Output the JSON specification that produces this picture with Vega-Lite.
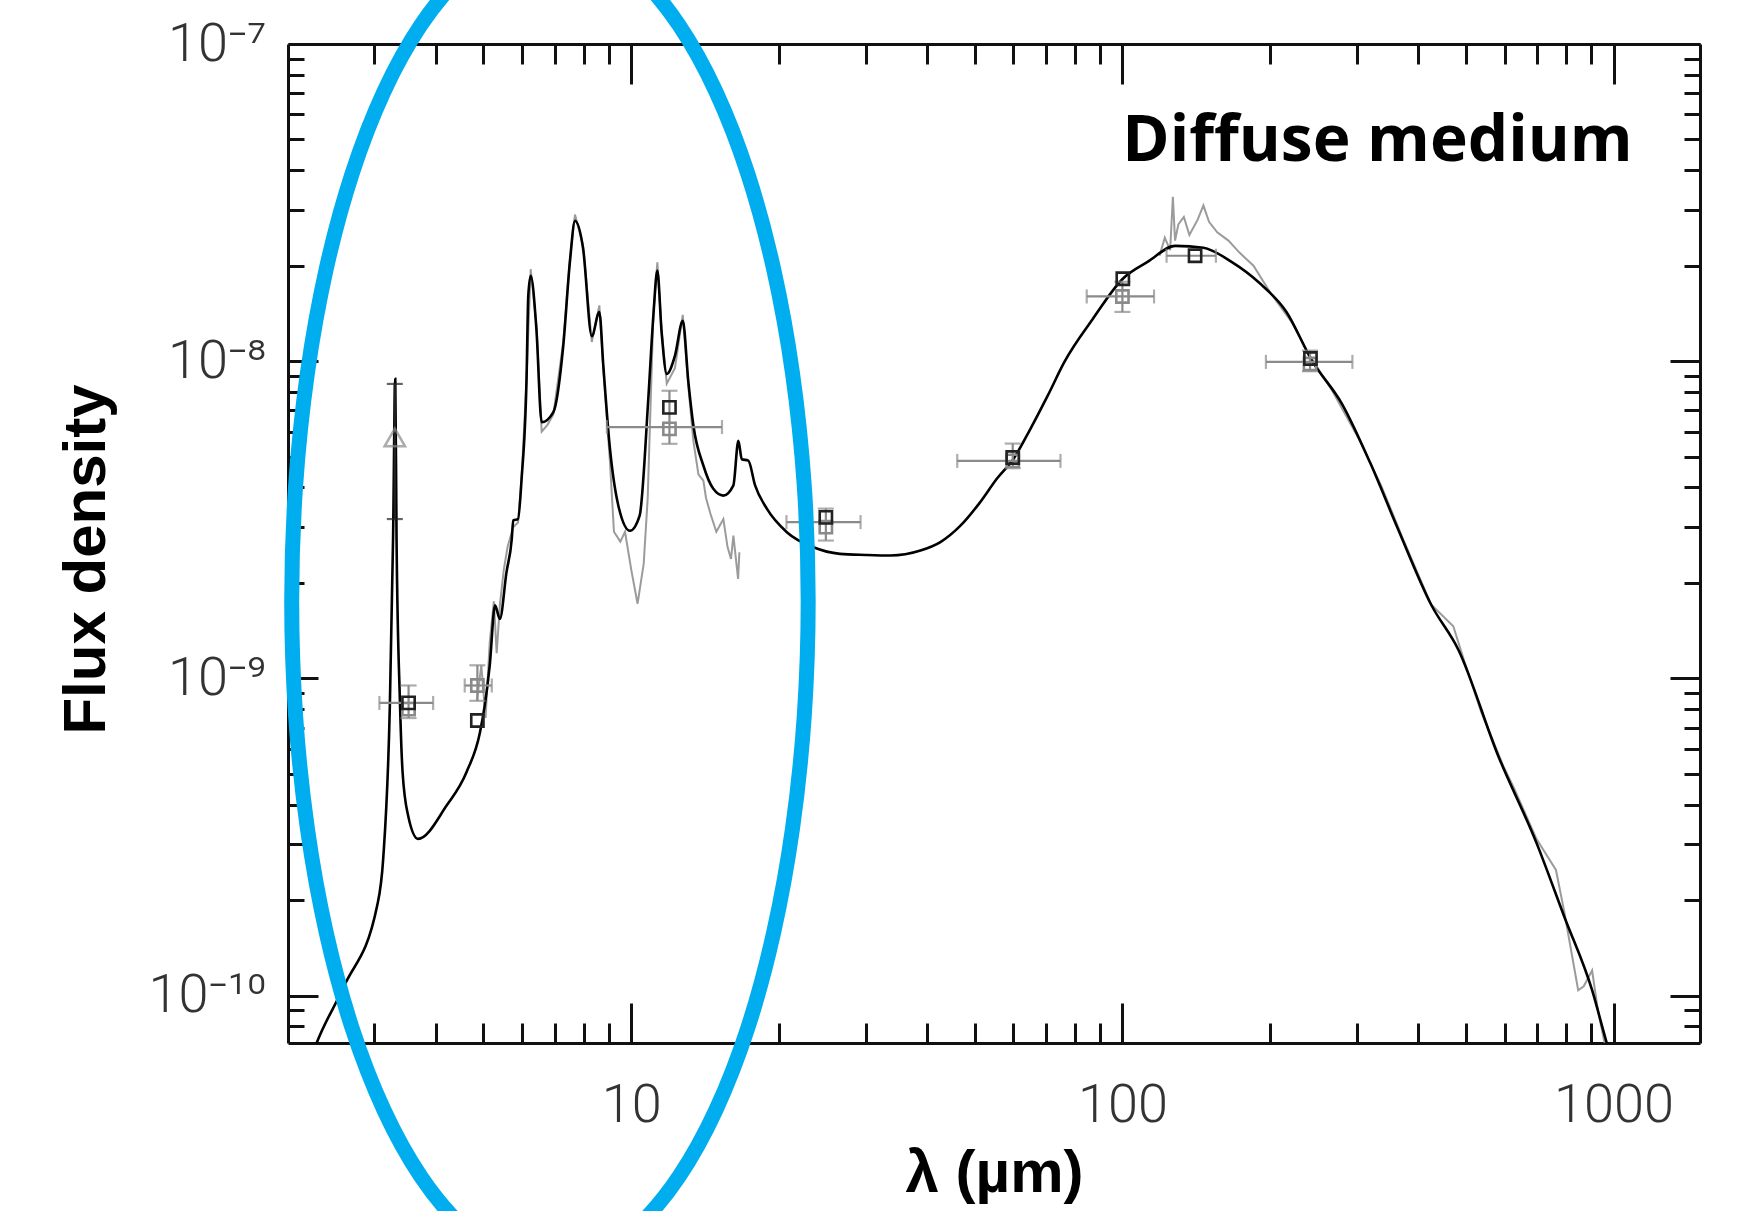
{
  "$schema": "https://vega.github.io/schema/vega-lite/v6.json",
  "width": 1412,
  "height": 999,
  "autosize": {"type": "none"},
  "padding": {"left": 288, "top": 44, "right": 41, "bottom": 168},
  "background": "white",
  "config": {"view": {"stroke": null}, "axis": {"grid": false}},
  "datasets": {
    "model": [
      {"lam": 2.2, "f": 6.0e-11}, {"lam": 2.28, "f": 7.0e-11}, {"lam": 2.6, "f": 1.07e-10}, {"lam": 3.04, "f": 1.93e-10},
      {"lam": 3.125, "f": 2.7e-10}, {"lam": 3.224, "f": 8.2e-10}, {"lam": 3.273, "f": 2.75e-9}, {"lam": 3.307, "f": 8.8e-9},
      {"lam": 3.327, "f": 2.75e-9}, {"lam": 3.379, "f": 8.62e-10}, {"lam": 3.422, "f": 5.08e-10}, {"lam": 3.513, "f": 3.69e-10},
      {"lam": 3.68, "f": 3.12e-10}, {"lam": 4.21, "f": 3.98e-10}, {"lam": 4.62, "f": 5.07e-10}, {"lam": 4.92, "f": 6.77e-10},
      {"lam": 5.03, "f": 8.21e-10}, {"lam": 5.15, "f": 1.1e-9}, {"lam": 5.28, "f": 1.7e-9}, {"lam": 5.4, "f": 1.54e-9},
      {"lam": 5.57, "f": 2.16e-9}, {"lam": 5.71, "f": 2.75e-9}, {"lam": 5.75, "f": 3.15e-9}, {"lam": 5.88, "f": 3.18e-9},
      {"lam": 5.98, "f": 4.26e-9}, {"lam": 6.12, "f": 8.8e-9}, {"lam": 6.17, "f": 1.61e-8}, {"lam": 6.24, "f": 1.86e-8},
      {"lam": 6.41, "f": 1.26e-8}, {"lam": 6.57, "f": 6.42e-9}, {"lam": 6.94, "f": 6.91e-9}, {"lam": 7.27, "f": 1.12e-8},
      {"lam": 7.5, "f": 2.06e-8}, {"lam": 7.68, "f": 2.77e-8}, {"lam": 7.98, "f": 2.26e-8}, {"lam": 8.31, "f": 1.2e-8},
      {"lam": 8.61, "f": 1.43e-8}, {"lam": 8.77, "f": 9.7e-9}, {"lam": 9.05, "f": 5.29e-9}, {"lam": 9.41, "f": 3.51e-9},
      {"lam": 9.94, "f": 2.92e-9}, {"lam": 10.4, "f": 3.26e-9}, {"lam": 10.83, "f": 7.6e-9}, {"lam": 11.09, "f": 1.39e-8},
      {"lam": 11.3, "f": 1.93e-8}, {"lam": 11.53, "f": 1.23e-8}, {"lam": 11.81, "f": 9.12e-9}, {"lam": 12.27, "f": 1.04e-8},
      {"lam": 12.73, "f": 1.34e-8}, {"lam": 13.07, "f": 8.59e-9}, {"lam": 13.38, "f": 6.27e-9}, {"lam": 14.02, "f": 4.69e-9},
      {"lam": 14.69, "f": 3.96e-9}, {"lam": 15.4, "f": 3.77e-9}, {"lam": 16.14, "f": 4.06e-9}, {"lam": 16.52, "f": 5.61e-9},
      {"lam": 16.79, "f": 4.91e-9}, {"lam": 17.31, "f": 4.86e-9}, {"lam": 17.87, "f": 4.06e-9}, {"lam": 18.88, "f": 3.43e-9},
      {"lam": 20.74, "f": 2.89e-9}, {"lam": 23.5, "f": 2.59e-9}, {"lam": 26.6, "f": 2.47e-9}, {"lam": 30.0, "f": 2.45e-9},
      {"lam": 33.7, "f": 2.44e-9}, {"lam": 38.8, "f": 2.53e-9}, {"lam": 42.6, "f": 2.69e-9}, {"lam": 46.8, "f": 3.03e-9},
      {"lam": 51.3, "f": 3.59e-9}, {"lam": 55.5, "f": 4.26e-9}, {"lam": 60.0, "f": 4.92e-9}, {"lam": 64.9, "f": 6.1e-9},
      {"lam": 70.5, "f": 7.8e-9}, {"lam": 76.2, "f": 9.95e-9}, {"lam": 86.9, "f": 1.354e-8},
      {"lam": 100.2, "f": 1.82e-8}, {"lam": 112.7, "f": 2.06e-8}, {"lam": 128.2, "f": 2.31e-8}, {"lam": 146.2, "f": 2.28e-8},
      {"lam": 166.5, "f": 2.06e-8}, {"lam": 189.7, "f": 1.77e-8}, {"lam": 215.8, "f": 1.43e-8}, {"lam": 242.7, "f": 1.01e-8},
      {"lam": 280.3, "f": 7.31e-9}, {"lam": 319.2, "f": 4.8e-9}, {"lam": 363.3, "f": 2.98e-9}, {"lam": 425.1, "f": 1.71e-9},
      {"lam": 483.7, "f": 1.227e-9}, {"lam": 580.8, "f": 5.76e-10}, {"lam": 697.5, "f": 3.02e-10}, {"lam": 794.3, "f": 1.77e-10},
      {"lam": 904.5, "f": 1.04e-10}, {"lam": 965.6, "f": 7.22e-11}, {"lam": 1000, "f": 6.0e-11}
    ],
    "spectrum": [
      {"seg": "mir", "lam": 4.85, "f": 8.5e-10}, {"seg": "mir", "lam": 4.95, "f": 1.1e-9}, {"seg": "mir", "lam": 5.05, "f": 7.5e-10},
      {"seg": "mir", "lam": 5.15, "f": 1.3e-9}, {"seg": "mir", "lam": 5.25, "f": 1.75e-9}, {"seg": "mir", "lam": 5.32, "f": 1.2e-9},
      {"seg": "mir", "lam": 5.4, "f": 1.7e-9}, {"seg": "mir", "lam": 5.5, "f": 2.2e-9}, {"seg": "mir", "lam": 5.6, "f": 2.6e-9},
      {"seg": "mir", "lam": 5.75, "f": 3.0e-9}, {"seg": "mir", "lam": 5.88, "f": 3.1e-9}, {"seg": "mir", "lam": 5.98, "f": 4.3e-9},
      {"seg": "mir", "lam": 6.12, "f": 8.8e-9}, {"seg": "mir", "lam": 6.24, "f": 1.95e-8}, {"seg": "mir", "lam": 6.41, "f": 1.3e-8},
      {"seg": "mir", "lam": 6.57, "f": 6.0e-9}, {"seg": "mir", "lam": 6.75, "f": 6.3e-9}, {"seg": "mir", "lam": 6.94, "f": 6.8e-9},
      {"seg": "mir", "lam": 7.27, "f": 1.15e-8}, {"seg": "mir", "lam": 7.5, "f": 2.1e-8}, {"seg": "mir", "lam": 7.68, "f": 2.9e-8},
      {"seg": "mir", "lam": 7.98, "f": 2.3e-8}, {"seg": "mir", "lam": 8.31, "f": 1.15e-8}, {"seg": "mir", "lam": 8.61, "f": 1.5e-8},
      {"seg": "mir", "lam": 8.77, "f": 9.5e-9}, {"seg": "mir", "lam": 9.05, "f": 4.8e-9}, {"seg": "mir", "lam": 9.22, "f": 2.9e-9},
      {"seg": "mir", "lam": 9.5, "f": 2.7e-9}, {"seg": "mir", "lam": 9.71, "f": 2.9e-9}, {"seg": "mir", "lam": 10.0, "f": 2.2e-9},
      {"seg": "mir", "lam": 10.3, "f": 1.72e-9}, {"seg": "mir", "lam": 10.6, "f": 2.3e-9}, {"seg": "mir", "lam": 10.8, "f": 3.7e-9},
      {"seg": "mir", "lam": 11.09, "f": 1.4e-8}, {"seg": "mir", "lam": 11.3, "f": 2.05e-8}, {"seg": "mir", "lam": 11.53, "f": 1.25e-8},
      {"seg": "mir", "lam": 11.81, "f": 8.5e-9}, {"seg": "mir", "lam": 12.27, "f": 9.5e-9}, {"seg": "mir", "lam": 12.73, "f": 1.4e-8},
      {"seg": "mir", "lam": 13.07, "f": 8.3e-9}, {"seg": "mir", "lam": 13.38, "f": 5.6e-9}, {"seg": "mir", "lam": 13.7, "f": 4.4e-9},
      {"seg": "mir", "lam": 14.02, "f": 4.2e-9}, {"seg": "mir", "lam": 14.2, "f": 3.7e-9}, {"seg": "mir", "lam": 14.5, "f": 3.3e-9},
      {"seg": "mir", "lam": 14.9, "f": 2.9e-9}, {"seg": "mir", "lam": 15.4, "f": 3.18e-9}, {"seg": "mir", "lam": 15.7, "f": 2.6e-9},
      {"seg": "mir", "lam": 15.96, "f": 2.38e-9}, {"seg": "mir", "lam": 16.14, "f": 2.82e-9}, {"seg": "mir", "lam": 16.5, "f": 2.06e-9},
      {"seg": "mir", "lam": 16.6, "f": 2.5e-9},
      {"seg": "fir", "lam": 119, "f": 2.15e-8}, {"seg": "fir", "lam": 122, "f": 2.45e-8}, {"seg": "fir", "lam": 125.1, "f": 2.24e-8},
      {"seg": "fir", "lam": 126.7, "f": 3.3e-8}, {"seg": "fir", "lam": 128, "f": 2.4e-8}, {"seg": "fir", "lam": 130.0, "f": 2.7e-8},
      {"seg": "fir", "lam": 133.4, "f": 2.85e-8}, {"seg": "fir", "lam": 136.9, "f": 2.5e-8}, {"seg": "fir", "lam": 142.4, "f": 2.8e-8},
      {"seg": "fir", "lam": 146.2, "f": 3.1e-8}, {"seg": "fir", "lam": 150.1, "f": 2.75e-8}, {"seg": "fir", "lam": 156.0, "f": 2.55e-8},
      {"seg": "fir", "lam": 164.4, "f": 2.4e-8}, {"seg": "fir", "lam": 173.1, "f": 2.2e-8}, {"seg": "fir", "lam": 184.9, "f": 2.0e-8},
      {"seg": "fir", "lam": 199.8, "f": 1.65e-8}, {"seg": "fir", "lam": 221.8, "f": 1.32e-8}, {"seg": "fir", "lam": 239.8, "f": 1.05e-8},
      {"seg": "fir", "lam": 266.1, "f": 8.18e-9}, {"seg": "fir", "lam": 302.9, "f": 5.69e-9}, {"seg": "fir", "lam": 336.3, "f": 4.06e-9},
      {"seg": "fir", "lam": 373.2, "f": 2.74e-9}, {"seg": "fir", "lam": 425.1, "f": 1.71e-9}, {"seg": "fir", "lam": 471.8, "f": 1.46e-9},
      {"seg": "fir", "lam": 497.1, "f": 1.13e-9}, {"seg": "fir", "lam": 537.4, "f": 7.86e-10}, {"seg": "fir", "lam": 596.4, "f": 5.3e-10},
      {"seg": "fir", "lam": 628.3, "f": 4.48e-10}, {"seg": "fir", "lam": 697.5, "f": 3.11e-10}, {"seg": "fir", "lam": 763.5, "f": 2.49e-10},
      {"seg": "fir", "lam": 794.3, "f": 1.83e-10}, {"seg": "fir", "lam": 825.9, "f": 1.3e-10}, {"seg": "fir", "lam": 847.4, "f": 1.04e-10},
      {"seg": "fir", "lam": 869.6, "f": 1.07e-10}, {"seg": "fir", "lam": 904.5, "f": 1.2e-10}, {"seg": "fir", "lam": 928.8, "f": 9.05e-11},
      {"seg": "fir", "lam": 953.0, "f": 7.44e-11}, {"seg": "fir", "lam": 970, "f": 6.5e-11}
    ],
    "hbars": [
      {"lo": 3.07, "hi": 3.95, "f": 8.37e-10},
      {"lo": 4.58, "hi": 5.2, "f": 9.5e-10},
      {"lo": 8.92, "hi": 15.3, "f": 6.2e-9},
      {"lo": 20.7, "hi": 29.3, "f": 3.11e-9},
      {"lo": 46.1, "hi": 74.8, "f": 4.85e-9},
      {"lo": 84.6, "hi": 116, "f": 1.6e-8},
      {"lo": 123, "hi": 155, "f": 2.15e-8},
      {"lo": 196, "hi": 294, "f": 9.95e-9}
    ],
    "vbars": [
      {"lam": 3.3, "lo": 3.18e-9, "hi": 8.48e-9, "c": "dark"},
      {"lam": 3.52, "lo": 7.5e-10, "hi": 9.5e-10, "c": "grey"},
      {"lam": 4.86, "lo": 8.5e-10, "hi": 1.1e-9, "c": "grey"},
      {"lam": 11.96, "lo": 5.49e-9, "hi": 8.07e-9, "c": "grey"},
      {"lam": 24.9, "lo": 2.72e-9, "hi": 3.43e-9, "c": "grey"},
      {"lam": 59.8, "lo": 4.6e-9, "hi": 5.5e-9, "c": "grey"},
      {"lam": 100, "lo": 1.43e-8, "hi": 1.78e-8, "c": "grey"},
      {"lam": 241, "lo": 9.3e-9, "hi": 1.08e-8, "c": "grey"}
    ],
    "phot": [
      {"lam": 3.52, "f": 8.0e-10, "set": "grey"},
      {"lam": 4.86, "f": 9.5e-10, "set": "grey"},
      {"lam": 11.96, "f": 6.12e-9, "set": "grey"},
      {"lam": 24.9, "f": 3.0e-9, "set": "grey"},
      {"lam": 59.8, "f": 4.85e-9, "set": "grey"},
      {"lam": 100, "f": 1.6e-8, "set": "grey"},
      {"lam": 241, "f": 9.8e-9, "set": "grey"},
      {"lam": 3.52, "f": 8.37e-10, "set": "black"},
      {"lam": 4.86, "f": 7.37e-10, "set": "black"},
      {"lam": 11.96, "f": 7.15e-9, "set": "black"},
      {"lam": 24.9, "f": 3.22e-9, "set": "black"},
      {"lam": 59.8, "f": 4.97e-9, "set": "black"},
      {"lam": 100.2, "f": 1.82e-8, "set": "black"},
      {"lam": 140.6, "f": 2.15e-8, "set": "black"},
      {"lam": 241.5, "f": 1.02e-8, "set": "black"}
    ],
    "tri": [{"lam": 3.3, "f": 5.75e-9}],
    "label": [{"lam": 1094, "f": 4.28e-8, "text": "Diffuse medium"}],
    "ellipse": [
      {"i": 0, "lam": 22.92, "f": 1.756e-9}, {"i": 1, "lam": 22.5, "f": 7.6e-10}, {"i": 2, "lam": 21.3, "f": 3.37e-10},
      {"i": 3, "lam": 19.48, "f": 1.573e-10}, {"i": 4, "lam": 17.26, "f": 7.89e-11}, {"i": 5, "lam": 14.87, "f": 4.36e-11},
      {"i": 6, "lam": 12.51, "f": 2.69e-11}, {"i": 7, "lam": 10.33, "f": 1.884e-11}, {"i": 8, "lam": 8.43, "f": 1.516e-11},
      {"i": 9, "lam": 6.83, "f": 1.408e-11}, {"i": 10, "lam": 5.53, "f": 1.516e-11}, {"i": 11, "lam": 4.515, "f": 1.884e-11},
      {"i": 12, "lam": 3.728, "f": 2.69e-11}, {"i": 13, "lam": 3.136, "f": 4.36e-11}, {"i": 14, "lam": 2.702, "f": 7.89e-11},
      {"i": 15, "lam": 2.394, "f": 1.573e-10}, {"i": 16, "lam": 2.19, "f": 3.37e-10}, {"i": 17, "lam": 2.073, "f": 7.6e-10},
      {"i": 18, "lam": 2.035, "f": 1.756e-9}, {"i": 19, "lam": 2.073, "f": 4.06e-9}, {"i": 20, "lam": 2.19, "f": 9.15e-9},
      {"i": 21, "lam": 2.394, "f": 1.961e-8}, {"i": 22, "lam": 2.702, "f": 3.91e-8}, {"i": 23, "lam": 3.136, "f": 7.08e-8},
      {"i": 24, "lam": 3.728, "f": 1.147e-7}, {"i": 25, "lam": 4.515, "f": 1.637e-7}, {"i": 26, "lam": 5.53, "f": 2.034e-7},
      {"i": 27, "lam": 6.83, "f": 2.19e-7}, {"i": 28, "lam": 8.43, "f": 2.034e-7}, {"i": 29, "lam": 10.33, "f": 1.637e-7},
      {"i": 30, "lam": 12.51, "f": 1.147e-7}, {"i": 31, "lam": 14.87, "f": 7.08e-8}, {"i": 32, "lam": 17.26, "f": 3.91e-8},
      {"i": 33, "lam": 19.48, "f": 1.961e-8}, {"i": 34, "lam": 21.3, "f": 9.15e-9}, {"i": 35, "lam": 22.5, "f": 4.06e-9}
    ]
  },
  "layer": [
    {
      "data": {"name": "spectrum"},
      "mark": {"type": "line", "color": "#8a8a8a", "strokeWidth": 2, "opacity": 0.85, "clip": true},
      "encoding": {
        "x": {"field": "lam", "type": "quantitative", "scale": {"type": "log", "domain": [2, 1500], "nice": false},
          "axis": {"orient": "bottom", "values": [10, 100, 1000], "format": "d", "labelFont": "Roboto", "labelFontWeight": 300,
            "labelFontSize": 54, "labelColor": "#333333", "labelPadding": 75, "labelFlush": false, "labelOverlap": false,
            "tickSize": -40, "tickWidth": 3, "tickColor": "#111111", "domainColor": "#111111", "domainWidth": 3,
            "title": "λ (µm)", "titleFont": "Liberation Sans", "titleFontSize": 60, "titleFontWeight": "bold", "titleColor": "#000000", "titlePadding": 12}},
        "y": {"field": "f", "type": "quantitative", "scale": {"type": "log", "domain": [7.09e-11, 1e-7], "nice": false},
          "axis": {"orient": "left", "values": [1e-10, 1e-9, 1e-8, 1e-7],
            "labelExpr": "datum.value > 5e-8 ? '10⁻⁷' : datum.value > 5e-9 ? '10⁻⁸' : datum.value > 5e-10 ? '10⁻⁹' : '10⁻¹⁰'",
            "labelFont": "Roboto", "labelFontWeight": 300, "labelFontSize": 54, "labelColor": "#333333", "labelPadding": 52,
            "labelFlush": false, "labelOverlap": false,
            "tickSize": -30, "tickWidth": 3, "tickColor": "#111111", "domainColor": "#111111", "domainWidth": 3,
            "title": "Flux density", "titleFont": "Liberation Sans", "titleFontSize": 60, "titleFontWeight": "bold", "titleColor": "#000000",
            "titlePadding": 30, "titleY": 515}},
        "detail": {"field": "seg", "type": "nominal"}
      }
    },
    {
      "data": {"name": "model"},
      "mark": {"type": "line", "color": "#000000", "strokeWidth": 2.6, "interpolate": "monotone", "clip": true},
      "encoding": {
        "x": {"field": "lam", "type": "quantitative", "scale": {"type": "log", "domain": [2, 1500], "nice": false},
          "axis": {"orient": "bottom", "values": [3, 4, 5, 6, 7, 8, 9, 20, 30, 40, 50, 60, 70, 80, 90, 200, 300, 400, 500, 600, 700, 800, 900],
            "labels": false, "domain": false, "title": null, "tickSize": -20, "tickWidth": 3, "tickColor": "#111111"}},
        "y": {"field": "f", "type": "quantitative", "scale": {"type": "log", "domain": [7.09e-11, 1e-7], "nice": false},
          "axis": {"orient": "left", "values": [8e-11, 9e-11, 2e-10, 3e-10, 4e-10, 5e-10, 6e-10, 7e-10, 8e-10, 9e-10, 2e-9, 3e-9, 4e-9, 5e-9, 6e-9, 7e-9, 8e-9, 9e-9, 2e-8, 3e-8, 4e-8, 5e-8, 6e-8, 7e-8, 8e-8, 9e-8],
            "labels": false, "domain": false, "title": null, "tickSize": -16, "tickWidth": 3, "tickColor": "#111111"}}
      }
    },
    {
      "data": {"name": "hbars"},
      "mark": {"type": "rule", "color": "#8a8a8a", "strokeWidth": 2.2},
      "encoding": {
        "x": {"field": "lo", "type": "quantitative", "scale": {"type": "log", "domain": [2, 1500], "nice": false},
          "axis": {"orient": "top", "values": [10, 100, 1000], "labels": false, "title": null,
            "tickSize": -40, "tickWidth": 3, "tickColor": "#111111", "domainColor": "#111111", "domainWidth": 3}},
        "x2": {"field": "hi"},
        "y": {"field": "f", "type": "quantitative", "scale": {"type": "log", "domain": [7.09e-11, 1e-7], "nice": false},
          "axis": {"orient": "right", "values": [1e-10, 1e-9, 1e-8, 1e-7], "labels": false, "title": null,
            "tickSize": -30, "tickWidth": 3, "tickColor": "#111111", "domainColor": "#111111", "domainWidth": 3}}
      }
    },
    {
      "data": {"name": "vbars"},
      "mark": {"type": "rule", "strokeWidth": 2.2},
      "encoding": {
        "x": {"field": "lam", "type": "quantitative", "scale": {"type": "log", "domain": [2, 1500], "nice": false},
          "axis": {"orient": "top", "values": [3, 4, 5, 6, 7, 8, 9, 20, 30, 40, 50, 60, 70, 80, 90, 200, 300, 400, 500, 600, 700, 800, 900],
            "labels": false, "domain": false, "title": null, "tickSize": -20, "tickWidth": 3, "tickColor": "#111111"}},
        "y": {"field": "lo", "type": "quantitative", "scale": {"type": "log", "domain": [7.09e-11, 1e-7], "nice": false},
          "axis": {"orient": "right", "values": [8e-11, 9e-11, 2e-10, 3e-10, 4e-10, 5e-10, 6e-10, 7e-10, 8e-10, 9e-10, 2e-9, 3e-9, 4e-9, 5e-9, 6e-9, 7e-9, 8e-9, 9e-9, 2e-8, 3e-8, 4e-8, 5e-8, 6e-8, 7e-8, 8e-8, 9e-8],
            "labels": false, "domain": false, "title": null, "tickSize": -16, "tickWidth": 3, "tickColor": "#111111"}},
        "y2": {"field": "hi"},
        "color": {"field": "c", "type": "nominal", "scale": {"domain": ["dark", "grey"], "range": ["#222222", "#8a8a8a"]}, "legend": null}
      }
    },
    {
      "data": {"name": "hbars"},
      "transform": [{"fold": ["lo", "hi"], "as": ["end", "x"]}],
      "mark": {"type": "tick", "orient": "vertical", "color": "#8a8a8a", "size": 14, "thickness": 2.2},
      "encoding": {
        "x": {"field": "x", "type": "quantitative", "scale": {"type": "log", "domain": [2, 1500], "nice": false}, "axis": null},
        "y": {"field": "f", "type": "quantitative", "scale": {"type": "log", "domain": [7.09e-11, 1e-7], "nice": false}, "axis": null}
      }
    },
    {
      "data": {"name": "vbars"},
      "transform": [{"fold": ["lo", "hi"], "as": ["end", "y"]}],
      "mark": {"type": "tick", "orient": "horizontal", "size": 16, "thickness": 2.2},
      "encoding": {
        "x": {"field": "lam", "type": "quantitative", "scale": {"type": "log", "domain": [2, 1500], "nice": false}, "axis": null},
        "y": {"field": "y", "type": "quantitative", "scale": {"type": "log", "domain": [7.09e-11, 1e-7], "nice": false}, "axis": null},
        "color": {"field": "c", "type": "nominal", "scale": {"domain": ["dark", "grey"], "range": ["#222222", "#8a8a8a"]}, "legend": null}
      }
    },
    {
      "data": {"name": "tri"},
      "mark": {"type": "point", "shape": "triangle-up", "filled": false, "size": 420, "strokeWidth": 2.5, "color": "#8a8a8a"},
      "encoding": {
        "x": {"field": "lam", "type": "quantitative", "scale": {"type": "log", "domain": [2, 1500], "nice": false}, "axis": null},
        "y": {"field": "f", "type": "quantitative", "scale": {"type": "log", "domain": [7.09e-11, 1e-7], "nice": false}, "axis": null}
      }
    },
    {
      "data": {"name": "phot"},
      "mark": {"type": "point", "shape": "square", "filled": false, "size": 150, "strokeWidth": 2.6, "opacity": 1},
      "encoding": {
        "x": {"field": "lam", "type": "quantitative", "scale": {"type": "log", "domain": [2, 1500], "nice": false}, "axis": null},
        "y": {"field": "f", "type": "quantitative", "scale": {"type": "log", "domain": [7.09e-11, 1e-7], "nice": false}, "axis": null},
        "color": {"field": "set", "type": "nominal", "scale": {"domain": ["black", "grey"], "range": ["#111111", "#9a9a9a"]}, "legend": null}
      }
    },
    {
      "data": {"name": "label"},
      "mark": {"type": "text", "font": "Open Sans", "fontSize": 64, "fontWeight": "bold", "align": "right", "baseline": "alphabetic", "color": "#000000"},
      "encoding": {
        "x": {"field": "lam", "type": "quantitative", "scale": {"type": "log", "domain": [2, 1500], "nice": false}, "axis": null},
        "y": {"field": "f", "type": "quantitative", "scale": {"type": "log", "domain": [7.09e-11, 1e-7], "nice": false}, "axis": null},
        "text": {"field": "text"}
      }
    },
    {
      "data": {"name": "ellipse"},
      "mark": {"type": "line", "color": "#00AEEF", "strokeWidth": 15, "interpolate": "cardinal-closed", "clip": false},
      "encoding": {
        "x": {"field": "lam", "type": "quantitative", "scale": {"type": "log", "domain": [2, 1500], "nice": false}, "axis": null},
        "y": {"field": "f", "type": "quantitative", "scale": {"type": "log", "domain": [7.09e-11, 1e-7], "nice": false}, "axis": null},
        "order": {"field": "i", "type": "quantitative"}
      }
    }
  ],
  "resolve": {"axis": {"x": "independent", "y": "independent"}}
}
